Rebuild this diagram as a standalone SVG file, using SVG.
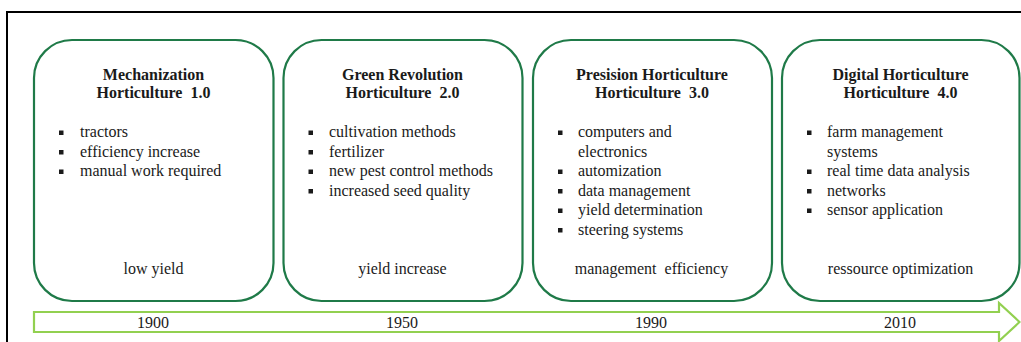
<svg xmlns="http://www.w3.org/2000/svg" width="1021" height="342" viewBox="0 0 1021 342">
  <style>
    .card { fill: #ffffff; stroke: #1f7a48; stroke-width: 2.2; }
    .title { font-family: "Liberation Serif", serif; font-weight: bold; font-size: 16px; fill: #1a1a1a; text-anchor: middle; }
    .item { font-family: "Liberation Serif", serif; font-size: 16px; fill: #1a1a1a; }
    .foot { font-family: "Liberation Serif", serif; font-size: 16px; fill: #1a1a1a; text-anchor: middle; }
    .year { font-family: "Liberation Serif", serif; font-size: 16px; fill: #1a1a1a; text-anchor: middle; }
    .timeline { fill: #ffffff; stroke: #92d050; stroke-width: 2.2; stroke-linejoin: miter; }
  </style>
  <defs>
    <rect id="bullet" width="4.5" height="4.5" fill="#1a1a1a"/>
  </defs>

  <rect width="1021" height="342" fill="#ffffff"/>
  <!-- outer frame -->
  <path d="M7 342 V12 H1021" fill="none" stroke="#000000" stroke-width="2"/>

  <!-- timeline arrow -->
  <g id="connectors">
    <path class="timeline" d="M34 312 H999 V303 L1019.5 322 L999 341 V332 H34 Z"/>
    <text class="year" x="153" y="328">1900</text>
    <text class="year" x="402" y="328">1950</text>
    <text class="year" x="651" y="328">1990</text>
    <text class="year" x="900" y="328">2010</text>
  </g>

  <!-- stage 1 -->
  <g id="stage1">
    <rect class="card" x="34" y="40" width="239.5" height="261" rx="38" ry="38"/>
    <text class="title" x="153.5" y="79.5">Mechanization</text>
    <text class="title" x="153.5" y="98" xml:space="preserve">Horticulture  1.0</text>
    <use href="#bullet" x="59" y="130.5"/>
    <use href="#bullet" x="59" y="150"/>
    <use href="#bullet" x="59" y="169.5"/>
    <text class="item" x="80" y="137">tractors</text>
    <text class="item" x="80" y="156.5">efficiency increase</text>
    <text class="item" x="80" y="176">manual work required</text>
    <text class="foot" x="153.5" y="274">low yield</text>
  </g>

  <!-- stage 2 -->
  <g id="stage2">
    <rect class="card" x="283.5" y="40" width="239" height="261" rx="38" ry="38"/>
    <text class="title" x="402.5" y="79.5">Green Revolution</text>
    <text class="title" x="402.5" y="98" xml:space="preserve">Horticulture  2.0</text>
    <use href="#bullet" x="308.5" y="130.5"/>
    <use href="#bullet" x="308.5" y="150"/>
    <use href="#bullet" x="308.5" y="169.5"/>
    <use href="#bullet" x="308.5" y="189"/>
    <text class="item" x="329" y="137">cultivation methods</text>
    <text class="item" x="329" y="156.5">fertilizer</text>
    <text class="item" x="329" y="176">new pest control methods</text>
    <text class="item" x="329" y="195.5">increased seed quality</text>
    <text class="foot" x="402.5" y="274">yield increase</text>
  </g>

  <!-- stage 3 -->
  <g id="stage3">
    <rect class="card" x="533" y="40" width="239" height="261" rx="38" ry="38"/>
    <text class="title" x="652" y="79.5">Presision Horticulture</text>
    <text class="title" x="652" y="98" xml:space="preserve">Horticulture  3.0</text>
    <use href="#bullet" x="558" y="130.5"/>
    <use href="#bullet" x="558" y="169.5"/>
    <use href="#bullet" x="558" y="189"/>
    <use href="#bullet" x="558" y="208.5"/>
    <use href="#bullet" x="558" y="228"/>
    <text class="item" x="578" y="137">computers and</text>
    <text class="item" x="578" y="156.5">electronics</text>
    <text class="item" x="578" y="176">automization</text>
    <text class="item" x="578" y="195.5">data management</text>
    <text class="item" x="578" y="215">yield determination</text>
    <text class="item" x="578" y="234.5">steering systems</text>
    <text class="foot" x="651.5" y="274" xml:space="preserve">management  efficiency</text>
  </g>

  <!-- stage 4 -->
  <g id="stage4">
    <rect class="card" x="782" y="40" width="237.5" height="261" rx="38" ry="38"/>
    <text class="title" x="900.5" y="79.5">Digital Horticulture</text>
    <text class="title" x="900.5" y="98" xml:space="preserve">Horticulture  4.0</text>
    <use href="#bullet" x="807" y="130.5"/>
    <use href="#bullet" x="807" y="169.5"/>
    <use href="#bullet" x="807" y="189"/>
    <use href="#bullet" x="807" y="208.5"/>
    <text class="item" x="827" y="137">farm management</text>
    <text class="item" x="827" y="156.5">systems</text>
    <text class="item" x="827" y="176">real time data analysis</text>
    <text class="item" x="827" y="195.5">networks</text>
    <text class="item" x="827" y="215">sensor application</text>
    <text class="foot" x="900.5" y="274">ressource optimization</text>
  </g>
</svg>
